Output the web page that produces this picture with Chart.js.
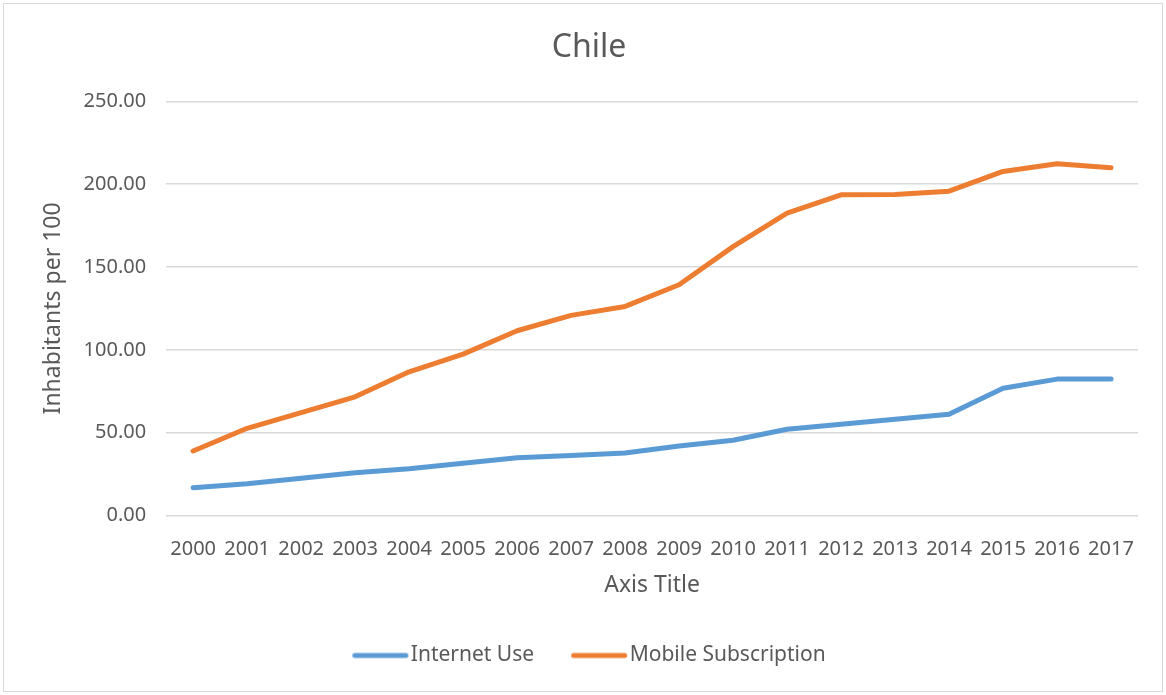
<!DOCTYPE html>
<html lang="en">
<head>
    <meta charset="UTF-8">
    <title>Chile</title>
    <script src="https://cdn.jsdelivr.net/npm/chart.js"></script>
    <style>
        body {
            margin: 0;
            background-color: #fff;
        }
        #box {
            position: absolute;
            left: 3px;
            top: 3px;
            width: 1158px;
            height: 687px;
            border: 1px solid #d9d9d9;
            background-color: #fff;
        }
    </style>
</head>
<body>
    <div id="box"><canvas id="chart"></canvas></div>
    <script>
    const years = ['2000', '2001', '2002', '2003', '2004', '2005', '2006', '2007', '2008',
                   '2009', '2010', '2011', '2012', '2013', '2014', '2015', '2016', '2017'];
    const internetUse = [16.7, 19.1, 22.4, 25.8, 28.2, 31.5, 34.8, 36.1, 37.7,
                         41.9, 45.4, 52.0, 55.1, 58.1, 61.1, 76.8, 82.3, 82.3];
    const mobileSubscription = [38.9, 52.6, 62.1, 71.6, 86.7, 97.4, 111.5, 120.8, 126.2,
                                139.3, 162.3, 182.5, 193.6, 193.8, 195.8, 207.7, 212.3, 209.9];

    const grey = '#595959';
    const fontFamily = '"Noto Sans", "Open Sans", sans-serif';

    // legend swatch: a short thick line that sits almost against the label text
    function swatch(color) {
        const c = document.createElement('canvas');
        c.width = 66;
        c.height = 10;
        const g = c.getContext('2d');
        g.strokeStyle = color;
        g.lineWidth = 5;
        g.lineCap = 'round';
        g.beginPath();
        g.moveTo(11.5, 5);
        g.lineTo(62.5, 5);
        g.stroke();
        return c;
    }

    const ctx = document.getElementById('chart').getContext('2d');
    new Chart(ctx, {
        type: 'line',
        data: {
            labels: years,
            datasets: [{
                label: 'Internet Use',
                data: internetUse,
                borderColor: '#5b9bd5',
                backgroundColor: '#5b9bd5',
                borderWidth: 5,
                borderCapStyle: 'round',
                borderJoinStyle: 'round',
                pointRadius: 0,
                pointStyle: swatch('#5b9bd5'),
                fill: false,
                tension: 0
            }, {
                label: 'Mobile Subscription',
                data: mobileSubscription,
                borderColor: '#ed7d31',
                backgroundColor: '#ed7d31',
                borderWidth: 5,
                borderCapStyle: 'round',
                borderJoinStyle: 'round',
                pointRadius: 0,
                pointStyle: swatch('#ed7d31'),
                fill: false,
                tension: 0
            }]
        },
        options: {
            responsive: true,
            maintainAspectRatio: false,
            animation: false,
            layout: {
                padding: { left: 36, right: 24, top: 10, bottom: 15 }
            },
            plugins: {
                title: {
                    display: true,
                    text: 'Chile',
                    color: grey,
                    font: { family: fontFamily, size: 32, weight: 'normal' },
                    padding: { top: 15, bottom: 34 }
                },
                legend: {
                    position: 'bottom',
                    labels: {
                        color: grey,
                        font: { family: fontFamily, size: 21 },
                        usePointStyle: true,
                        pointStyleWidth: 48,
                        boxWidth: 48,
                        boxHeight: 10,
                        padding: 37
                    }
                },
                tooltip: { enabled: false }
            },
            scales: {
                x: {
                    offset: true,
                    grid: { display: false },
                    border: { display: false },
                    ticks: {
                        color: grey,
                        font: { family: fontFamily, size: 20 },
                        maxRotation: 0,
                        autoSkip: false,
                        padding: 14
                    },
                    title: {
                        display: true,
                        text: 'Axis Title',
                        color: grey,
                        font: { family: fontFamily, size: 23 },
                        padding: { top: -4, bottom: 9 }
                    }
                },
                y: {
                    min: 0,
                    max: 250,
                    grid: { color: '#d9d9d9', lineWidth: 1.5, drawTicks: false },
                    border: { display: false },
                    ticks: {
                        stepSize: 50,
                        color: grey,
                        font: { family: fontFamily, size: 20 },
                        padding: 20,
                        callback: v => v.toFixed(2)
                    },
                    title: {
                        display: true,
                        text: 'Inhabitants per 100',
                        color: grey,
                        font: { family: fontFamily, size: 23 },
                        padding: { top: 0, bottom: -4 }
                    }
                }
            }
        }
    });
    </script>
</body>
</html>
